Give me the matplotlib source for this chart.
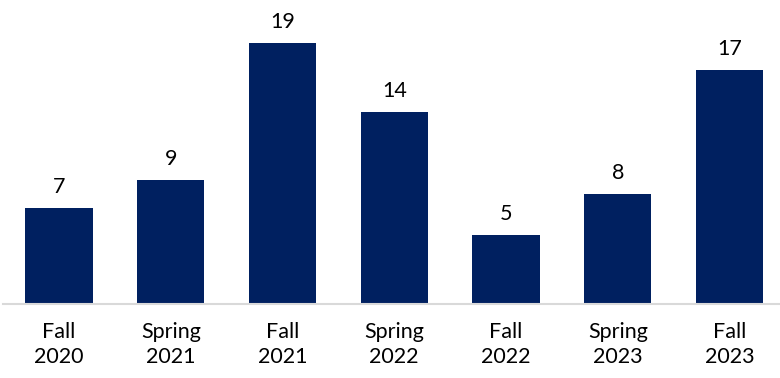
import matplotlib.pyplot as plt

terms = ["Fall\n2020", "Spring\n2021", "Fall\n2021", "Spring\n2022",
         "Fall\n2022", "Spring\n2023", "Fall\n2023"]
counts = [7, 9, 19, 14, 5, 8, 17]

plt.rcParams["font.family"] = ["Lato", "DejaVu Sans"]

fig = plt.figure(figsize=(7.8, 3.78), dpi=100)
ax = fig.add_axes([3 / 780, 74 / 378, 777 / 780, 304 / 378])

x = list(range(len(counts)))
bars = ax.bar(x, counts, width=0.6, color="#002060")
for rect, v in zip(bars, counts):
    ax.annotate(str(v), (rect.get_x() + rect.get_width() / 2, v),
                xytext=(0, 8), textcoords="offset points",
                ha="center", va="bottom", fontsize=15.5, color="black")

ax.set_xlim(-0.501, 6.452)
ax.set_ylim(0, 22.13)
ax.set_xticks(x)
ax.set_xticklabels(terms, fontsize=15.5, linespacing=1.32)
ax.tick_params(axis="x", length=0, pad=13)
ax.set_yticks([])
for side in ["top", "left", "right"]:
    ax.spines[side].set_visible(False)
ax.spines["bottom"].set_color("#d9d9d9")
ax.spines["bottom"].set_linewidth(1.5)

fig.savefig("out.png", dpi=100)
